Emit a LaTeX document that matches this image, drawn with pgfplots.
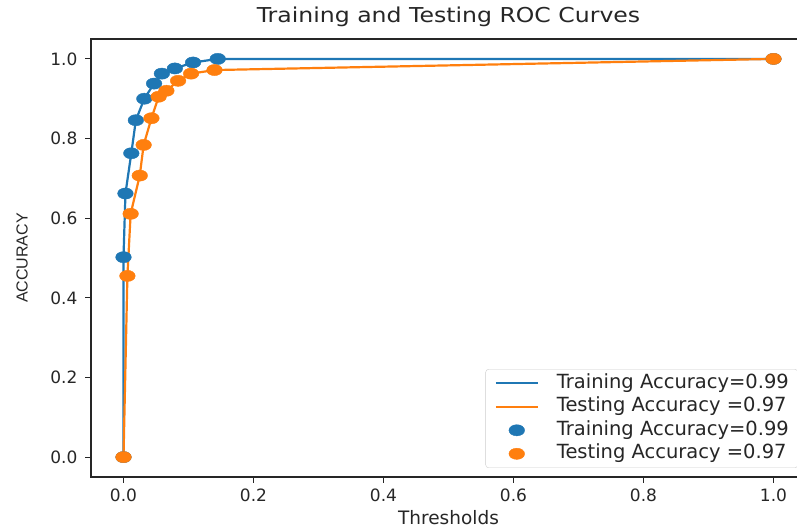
\documentclass[border=0pt]{standalone}
\usepackage{pgfplots}
\pgfplotsset{compat=1.18}
\usepackage{fontspec}
\setmainfont{DejaVu Sans}
\newfontfamily\titlefont{DejaVu Sans}[FakeStretch=1.15]
\newfontfamily\ylabfont{Liberation Sans}
\definecolor{tabblue}{HTML}{1F77B4}
\definecolor{taborange}{HTML}{FF7F0E}
\definecolor{txt}{HTML}{262626}
\pgfplotsset{
  lineleg/.style={legend image code/.code={\draw[##1] (0pt,0pt) -- (42pt,0pt);}},
  markleg/.style={legend image code/.code={\path[##1] plot coordinates {(21pt,0pt)};}},
}
\begin{document}
\begin{tikzpicture}
\begin{axis}[
  scale only axis, width=715pt, height=438pt,
  xmin=-0.05, xmax=1.05, ymin=-0.05, ymax=1.05,
  xtick={0,0.2,0.4,0.6,0.8,1.0},
  ytick={0,0.2,0.4,0.6,0.8,1.0},
  /pgf/number format/.cd, fixed, fixed zerofill, precision=1, assume math mode=true,
  /pgfplots/.cd,
  tick pos=left, tick align=outside, major tick length=6pt,
  tick style={txt, line width=1pt},
  axis line style={txt, line width=1.1pt},
  ticklabel style={font=\fontsize{17}{17}\selectfont, text=txt},
  yticklabel style={xshift=-4pt},
  xticklabel style={yshift=-2pt},
  title={Training and Testing ROC Curves},
  title style={at={([yshift=10pt]axis description cs:0.5,1)}, anchor=base, font=\titlefont\fontsize{20.5}{20.5}\selectfont, text=txt},
  xlabel={Thresholds},
  xlabel style={at={([yshift=-48pt]axis description cs:0.5,0)}, anchor=base, font=\fontsize{18.5}{18.5}\selectfont, text=txt},
  ylabel={ACCURACY},
  ylabel style={at={([xshift=-69pt]axis description cs:0,0.5)}, anchor=center, font=\ylabfont\fontsize{16}{16}\selectfont, text=txt},
  legend cell align=left,
  legend style={at={([xshift=-8pt,yshift=9pt]axis description cs:1,0)}, anchor=south east,
    draw=black!20, rounded corners=3pt, fill=white, inner xsep=9pt, inner ysep=5pt,
    column sep=18pt, row sep=5.5pt,
    nodes={inner sep=0pt, text height=14pt, text depth=4pt, text=txt, font=\fontsize{19.5}{19.5}\selectfont}},
]
\addplot[tabblue, line width=2.2pt, lineleg] coordinates {
(0,0) (0.0,0.502) (0.003,0.662) (0.012,0.763) (0.019,0.846) (0.032,0.900) (0.047,0.938) (0.059,0.963) (0.079,0.976) (0.107,0.991) (0.145,1.0) (1.0,1.0)};
\addlegendentry{Training Accuracy=0.99}
\addplot[taborange, line width=2.2pt, lineleg] coordinates {
(0,0) (0.006,0.455) (0.011,0.611) (0.025,0.707) (0.031,0.784) (0.043,0.851) (0.054,0.905) (0.066,0.920) (0.084,0.945) (0.104,0.963) (0.140,0.972) (1.0,1.0)};
\addlegendentry{Testing Accuracy =0.97}
\addplot[only marks, mark=*, mark size=5.6pt, mark options={xscale=1.4, fill=tabblue, draw=tabblue}, tabblue, markleg] coordinates {
(0,0) (0.0,0.502) (0.003,0.662) (0.012,0.763) (0.019,0.846) (0.032,0.900) (0.047,0.938) (0.059,0.963) (0.079,0.976) (0.107,0.991) (0.145,1.0) (1.0,1.0)};
\addlegendentry{Training Accuracy=0.99}
\addplot[only marks, mark=*, mark size=5.6pt, mark options={xscale=1.4, fill=taborange, draw=taborange}, taborange, markleg] coordinates {
(0,0) (0.006,0.455) (0.011,0.611) (0.025,0.707) (0.031,0.784) (0.043,0.851) (0.054,0.905) (0.066,0.920) (0.084,0.945) (0.104,0.963) (0.140,0.972) (1.0,1.0)};
\addlegendentry{Testing Accuracy =0.97}
\end{axis}
\pgfresetboundingbox
\path (-91pt,-52pt) rectangle (706pt,477pt);
\end{tikzpicture}
\end{document}
